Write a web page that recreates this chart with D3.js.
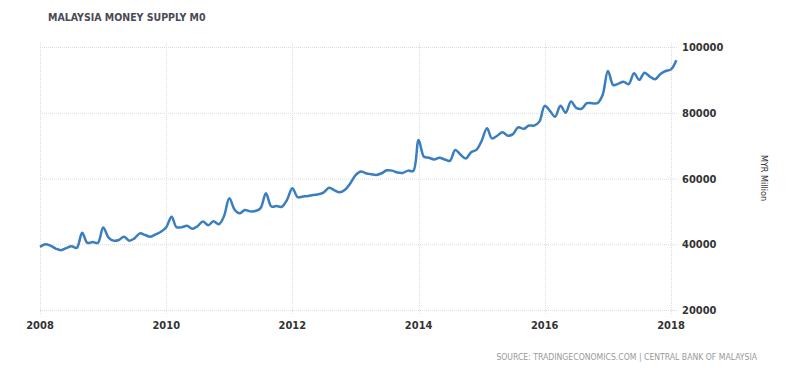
<!DOCTYPE html>
<html>
<head>
<meta charset="utf-8">
<script src="https://cdn.jsdelivr.net/npm/d3@7"></script>
<style>
  body { margin: 0; background: #fff; }
  text { font-family: "DejaVu Sans Condensed", "Open Sans", sans-serif; }
</style>
</head>
<body>
<div id="chart"></div>
<script>
// monthly M0, Jan 2008 .. Feb 2018 (MYR million)
var startYear = 2008;
var values = [
  39200, 40000, 39600, 38700, 38200, 38800, 39400, 38900, 43500, 40400, 40700, 40400,
  45100, 42000, 41100, 41300, 42300, 41100, 41800, 43300, 42800, 42300, 43000, 43800,
  45200, 48400, 45200, 45200, 45600, 44700, 45500, 46900, 45800, 47000, 46100, 48500,
  54000, 50500, 49400, 50400, 50000, 50100, 51000, 55500, 51500, 51600, 51400, 53500,
  57000, 54300, 54500, 54700, 55000, 55200, 55800, 57200, 56400, 55800, 56600, 58500,
  61000, 62100, 61600, 61300, 61100, 61600, 62500, 62400, 61800, 61700, 62400, 62300,
  71700, 66600, 66300, 65800, 66300, 65800, 65400, 68700, 67200, 66100, 68000, 68700,
  71500, 75300, 72200, 73000, 74100, 73000, 73500, 75600, 75100, 76100, 76100, 77300,
  82100, 80500, 78800, 82100, 80000, 83400, 81500, 81200, 82900, 82900, 82900, 85400,
  92700, 88400, 88800, 89400, 88700, 92000, 90000, 92200, 91000, 90200, 91800, 92700,
  93200, 96000
];
var yTicks = [20000, 40000, 60000, 80000, 100000];
var xTickYears = [2008, 2010, 2012, 2014, 2016, 2018];

var width = 800, height = 372;
var margin = { top: 47, left: 40, right: 129, bottom: 62 };

var data = values.map(function(v, i) {
  return { date: new Date(startYear, i, 1), value: v };
});

var svg = d3.select("#chart").append("svg")
  .attr("width", width)
  .attr("height", height);

var x = d3.scaleTime()
  .domain([new Date(2008, 0, 1), new Date(2018, 0, 1)])
  .range([margin.left, width - margin.right]);

var y = d3.scaleLinear()
  .domain([20000, 100000])
  .range([height - margin.bottom, margin.top]);

// horizontal grid
svg.append("g").selectAll("line").data(yTicks).enter().append("line")
  .attr("x1", margin.left)
  .attr("x2", width - margin.right + 7)
  .attr("y1", function(d) { return y(d) + 0.5; })
  .attr("y2", function(d) { return y(d) + 0.5; })
  .attr("stroke", "#dcdcdc")
  .attr("stroke-dasharray", "1,1");

// vertical grid
svg.append("g").selectAll("line").data(xTickYears).enter().append("line")
  .attr("x1", function(d) { return Math.round(x(new Date(d, 0, 1))) + 0.5; })
  .attr("x2", function(d) { return Math.round(x(new Date(d, 0, 1))) + 0.5; })
  .attr("y1", margin.top - 4)
  .attr("y2", height - margin.bottom + 5)
  .attr("stroke", "#dcdcdc")
  .attr("stroke-dasharray", "1,1");

// line
var line = d3.line()
  .x(function(d) { return x(d.date); })
  .y(function(d) { return y(d.value); })
  .curve(d3.curveCatmullRom.alpha(0.5));

svg.append("path")
  .datum(data)
  .attr("fill", "none")
  .attr("stroke", "#3b7ebf")
  .attr("stroke-width", 2.5)
  .attr("stroke-linejoin", "round")
  .attr("d", line);

// y labels
svg.append("g").selectAll("text").data(yTicks).enter().append("text")
  .attr("x", width - margin.right + 11)
  .attr("y", function(d) { return y(d) + 4; })
  .attr("font-size", "11px")
  .attr("font-weight", "bold")
  .attr("fill", "#333")
  .text(function(d) { return d; });

// x labels
svg.append("g").selectAll("text").data(xTickYears).enter().append("text")
  .attr("x", function(d) { return x(new Date(d, 0, 1)); })
  .attr("y", height - margin.bottom + 19)
  .attr("text-anchor", "middle")
  .attr("font-size", "11px")
  .attr("font-weight", "bold")
  .attr("fill", "#333")
  .text(function(d) { return d; });

// axis title
svg.append("text")
  .attr("transform", "translate(761,178) rotate(90)")
  .attr("text-anchor", "middle")
  .attr("font-size", "9px")
  .attr("fill", "#333")
  .text("MYR Million");

// title
svg.append("text")
  .attr("x", 48)
  .attr("y", 21)
  .attr("font-size", "10.5px")
  .attr("font-weight", "bold")
  .attr("fill", "#4a4a55")
  .text("MALAYSIA MONEY SUPPLY M0");

// source
svg.append("text")
  .attr("x", 757)
  .attr("y", 360)
  .attr("text-anchor", "end")
  .attr("font-size", "8.6px")
  .attr("fill", "#999")
  .text("SOURCE: TRADINGECONOMICS.COM | CENTRAL BANK OF MALAYSIA");
</script>
</body>
</html>
